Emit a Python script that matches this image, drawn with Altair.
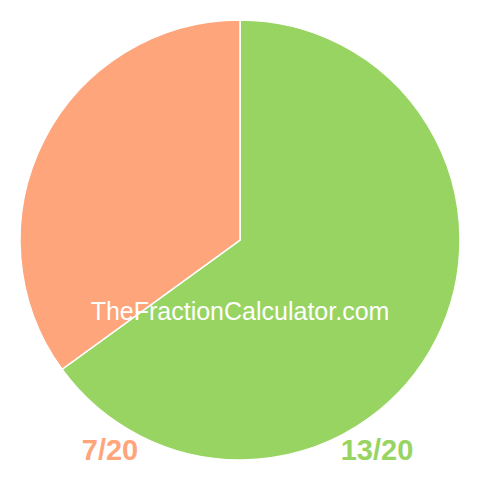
import altair as alt
import pandas as pd

labels = ["13/20", "7/20"]
values = [13, 7]
colors = ["#98d462", "#fea57b"]
order = [0, 1]

df = pd.DataFrame({"label": labels, "value": values, "order": order})

pie = alt.Chart(df).mark_arc(outerRadius=220, stroke="white", strokeWidth=1.5).encode(
    theta=alt.Theta("value:Q", stack=True),
    order=alt.Order("order:Q"),
    color=alt.Color("label:N", scale=alt.Scale(domain=labels, range=colors), legend=None),
)

wm = alt.Chart(pd.DataFrame({"t": ["TheFractionCalculator.com"]})).mark_text(
    font="Liberation Sans", fontSize=25, color="white", align="center", baseline="alphabetic"
).encode(text="t:N", x=alt.value(232), y=alt.value(312))

lab_df = pd.DataFrame({"label": labels, "px": [369, 102]})
labs = alt.Chart(lab_df).mark_text(
    font="Liberation Sans", fontSize=29, fontWeight="bold", align="center", baseline="alphabetic"
).encode(
    text="label:N",
    x=alt.X("px:Q", scale=None),
    y=alt.value(452),
    color=alt.Color("label:N", scale=alt.Scale(domain=labels, range=colors), legend=None),
)

chart = alt.layer(pie, wm, labs).properties(
    width=464, height=464, padding=0, autosize=alt.AutoSizeParams(type="none")
).configure_view(stroke=None)

chart.save("out.html", embed_options={"renderer": "svg", "actions": False})
